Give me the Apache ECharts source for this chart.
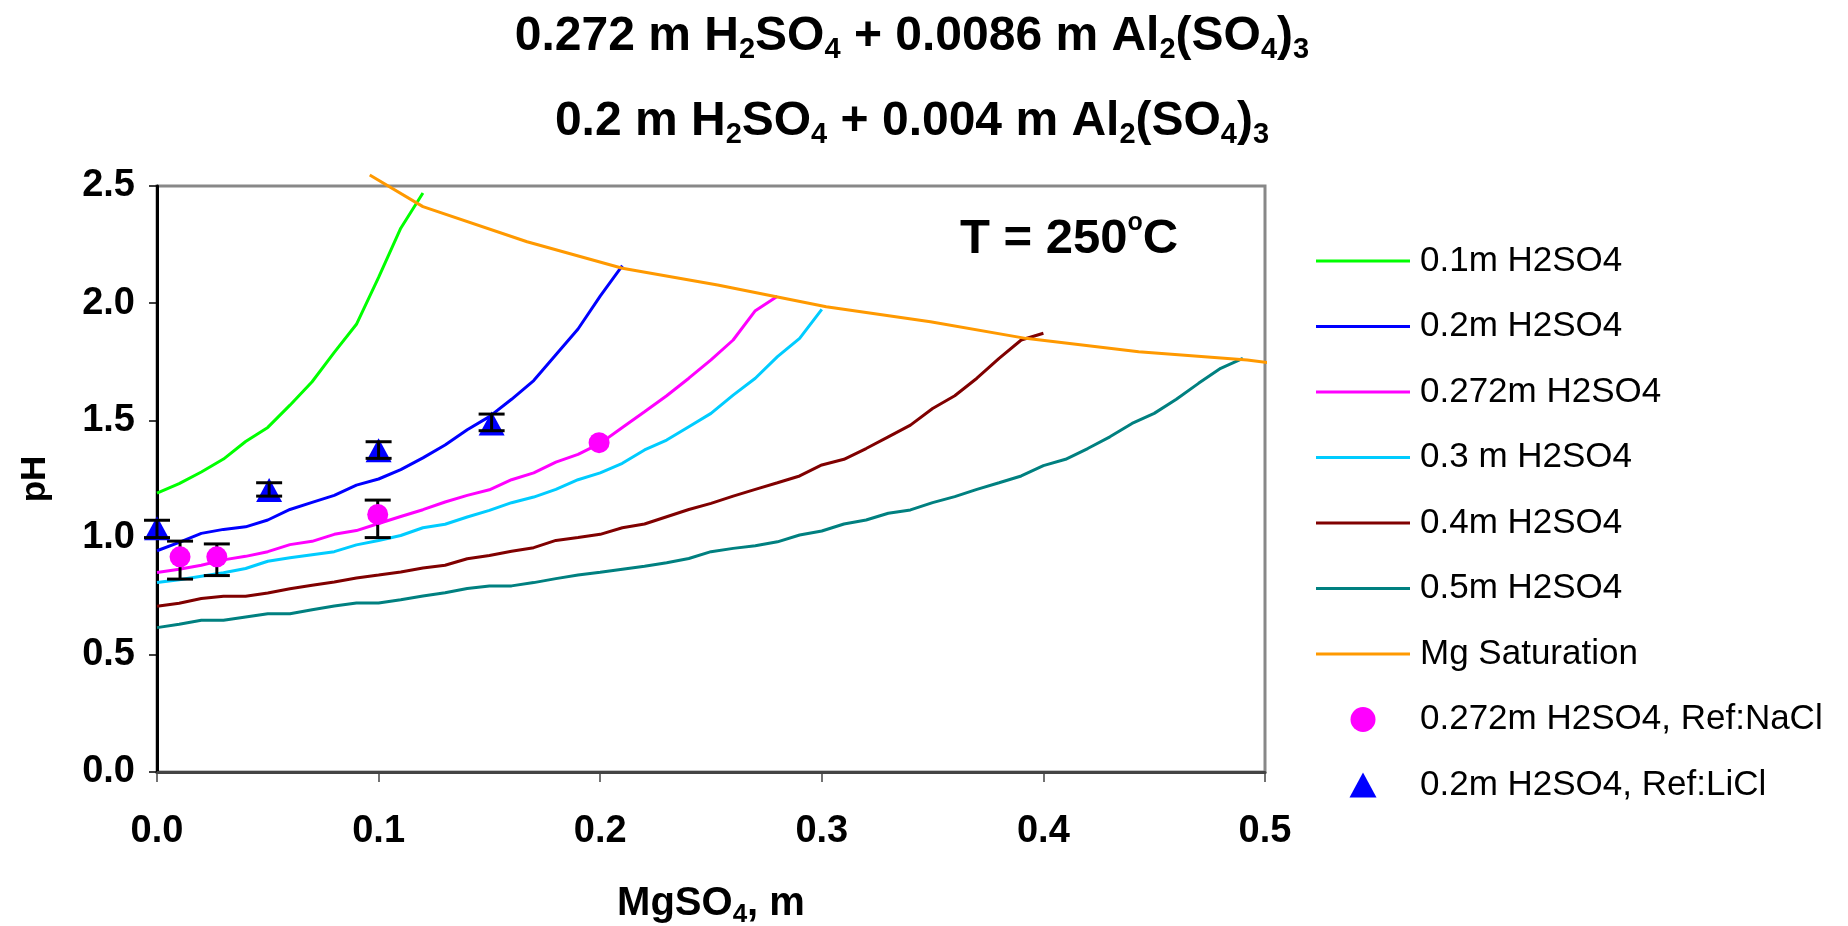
<!DOCTYPE html>
<html>
<head>
<meta charset="utf-8">
<script src="https://cdn.jsdelivr.net/npm/echarts@6/dist/echarts.min.js"></script>
<style>
  html, body { margin: 0; padding: 0; background: #fff; }
  #main { width: 1848px; height: 926px; }
</style>
</head>
<body>
<div id="main"></div>
<script>
const chartDom = document.getElementById('main');
const myChart = echarts.init(chartDom);

const FONT = '"Liberation Sans", Arial, sans-serif';

// model curves: [MgSO4 m, pH]
const h2so4_01 = [[0, 1.19], [0.01, 1.23], [0.02, 1.28], [0.03, 1.335], [0.04, 1.41], [0.05, 1.47],
  [0.06, 1.565], [0.07, 1.665], [0.08, 1.79], [0.09, 1.91], [0.10, 2.11], [0.11, 2.32], [0.12, 2.47]];

const h2so4_02 = [[0, 0.944], [0.01, 0.98], [0.02, 1.018], [0.03, 1.035], [0.04, 1.046], [0.05, 1.075],
  [0.06, 1.12], [0.07, 1.15], [0.08, 1.18], [0.09, 1.224], [0.10, 1.25], [0.11, 1.29], [0.12, 1.34],
  [0.13, 1.395], [0.14, 1.46], [0.15, 1.516], [0.16, 1.59], [0.17, 1.67], [0.18, 1.78], [0.19, 1.89],
  [0.20, 2.03], [0.21, 2.16]];

const h2so4_0272 = [[0, 0.851], [0.01, 0.865], [0.02, 0.882], [0.03, 0.905], [0.04, 0.92], [0.05, 0.94],
  [0.06, 0.97], [0.07, 0.984], [0.08, 1.014], [0.09, 1.03], [0.10, 1.06], [0.11, 1.09], [0.12, 1.119],
  [0.13, 1.152], [0.14, 1.18], [0.15, 1.204], [0.16, 1.247], [0.17, 1.276], [0.18, 1.322], [0.19, 1.355],
  [0.20, 1.402], [0.21, 1.47], [0.22, 1.537], [0.23, 1.605], [0.24, 1.68], [0.25, 1.758], [0.26, 1.843],
  [0.27, 1.968], [0.28, 2.03]];

const h2so4_03 = [[0, 0.808], [0.01, 0.82], [0.02, 0.835], [0.03, 0.85], [0.04, 0.868], [0.05, 0.899],
  [0.06, 0.914], [0.07, 0.927], [0.08, 0.94], [0.09, 0.969], [0.10, 0.988], [0.11, 1.009], [0.12, 1.042],
  [0.13, 1.057], [0.14, 1.088], [0.15, 1.116], [0.16, 1.149], [0.17, 1.173], [0.18, 1.206], [0.19, 1.247],
  [0.20, 1.276], [0.21, 1.317], [0.22, 1.374], [0.23, 1.416], [0.24, 1.473], [0.25, 1.53], [0.26, 1.608],
  [0.27, 1.68], [0.28, 1.772], [0.29, 1.85], [0.30, 1.974]];

const h2so4_04 = [[0, 0.707], [0.01, 0.72], [0.02, 0.74], [0.03, 0.75], [0.04, 0.75], [0.05, 0.764],
  [0.06, 0.782], [0.07, 0.797], [0.08, 0.811], [0.09, 0.828], [0.10, 0.84], [0.11, 0.853], [0.12, 0.87],
  [0.13, 0.882], [0.14, 0.91], [0.15, 0.924], [0.16, 0.942], [0.17, 0.957], [0.18, 0.988], [0.19, 1.0],
  [0.20, 1.014], [0.21, 1.042], [0.22, 1.058], [0.23, 1.089], [0.24, 1.12], [0.25, 1.146], [0.26, 1.177],
  [0.27, 1.206], [0.28, 1.234], [0.29, 1.263], [0.30, 1.31], [0.31, 1.334], [0.32, 1.38], [0.33, 1.43],
  [0.34, 1.48], [0.35, 1.551], [0.36, 1.605], [0.37, 1.68], [0.38, 1.765], [0.39, 1.843], [0.40, 1.872]];

const h2so4_05 = [[0, 0.616], [0.01, 0.63], [0.02, 0.647], [0.03, 0.647], [0.04, 0.661], [0.05, 0.675],
  [0.06, 0.675], [0.07, 0.692], [0.08, 0.708], [0.09, 0.721], [0.10, 0.721], [0.11, 0.735], [0.12, 0.751],
  [0.13, 0.765], [0.14, 0.783], [0.15, 0.794], [0.16, 0.794], [0.17, 0.808], [0.18, 0.825], [0.19, 0.84],
  [0.20, 0.852], [0.21, 0.865], [0.22, 0.878], [0.23, 0.893], [0.24, 0.911], [0.25, 0.94], [0.26, 0.954],
  [0.27, 0.965], [0.28, 0.982], [0.29, 1.011], [0.30, 1.028], [0.31, 1.058], [0.32, 1.075], [0.33, 1.104],
  [0.34, 1.118], [0.35, 1.149], [0.36, 1.175], [0.37, 1.206], [0.38, 1.234], [0.39, 1.263], [0.40, 1.307],
  [0.41, 1.334], [0.42, 1.38], [0.43, 1.43], [0.44, 1.487], [0.45, 1.53], [0.46, 1.59], [0.47, 1.658],
  [0.48, 1.722], [0.49, 1.765]];

const mgSaturation = [[0.096, 2.547], [0.12, 2.412], [0.167, 2.262], [0.21, 2.149], [0.253, 2.078],
  [0.302, 1.985], [0.349, 1.921], [0.392, 1.85], [0.443, 1.793], [0.492, 1.758], [0.507, 1.74]];

// measured points and error bars [x, low, high]
const refNaCl = [[0.0104, 0.918], [0.027, 0.918], [0.0996, 1.099], [0.1995, 1.405]];
const refNaClErr = [[0.0104, 0.823, 0.985], [0.027, 0.838, 0.973], [0.0996, 1.0, 1.16]];
const refLiCl = [[0, 1.04], [0.0506, 1.203], [0.1, 1.373], [0.151, 1.487]];
const refLiClErr = [[0, 1.0, 1.074], [0.0506, 1.177, 1.234], [0.1, 1.338, 1.409], [0.151, 1.456, 1.527]];

const xTicks = [0, 0.1, 0.2, 0.3, 0.4, 0.5];
const yTicks = [0, 0.5, 1.0, 1.5, 2.0, 2.5];

const curves = [
  { name: '0.1m H2SO4', data: h2so4_01, color: '#00FF00' },
  { name: '0.2m H2SO4', data: h2so4_02, color: '#0000FF' },
  { name: '0.272m H2SO4', data: h2so4_0272, color: '#FF00FF' },
  { name: '0.3 m H2SO4', data: h2so4_03, color: '#00CCFF' },
  { name: '0.4m H2SO4', data: h2so4_04, color: '#800000' },
  { name: '0.5m H2SO4', data: h2so4_05, color: '#008080' },
  { name: 'Mg Saturation', data: mgSaturation, color: '#FF9900' }
];
const nameNaCl = '0.272m H2SO4, Ref:NaCl';
const nameLiCl = '0.2m H2SO4, Ref:LiCl';

function errorBar(params, api) {
  const x = api.value(0);
  const lo = api.coord([x, api.value(1)]);
  const hi = api.coord([x, api.value(2)]);
  const half = 13;
  const style = { stroke: '#000', lineWidth: 3 };
  return {
    type: 'group',
    children: [
      { type: 'line', shape: { x1: lo[0], y1: lo[1], x2: hi[0], y2: hi[1] }, style },
      { type: 'line', shape: { x1: lo[0] - half, y1: lo[1], x2: lo[0] + half, y2: lo[1] }, style },
      { type: 'line', shape: { x1: hi[0] - half, y1: hi[1], x2: hi[0] + half, y2: hi[1] }, style }
    ]
  };
}

const subStyle = (size, lh) => ({
  fontFamily: FONT, fontWeight: 'bold', fontSize: size, lineHeight: lh,
  verticalAlign: 'bottom', color: '#000'
});
const titleRich = {
  b: { fontFamily: FONT, fontWeight: 'bold', fontSize: 48, lineHeight: 54, color: '#000' },
  s: subStyle(29, 17)
};

const series = curves.map(c => ({
  type: 'line',
  name: c.name,
  data: c.data,
  showSymbol: false,
  symbol: 'none',
  clip: c.name !== 'Mg Saturation',
  lineStyle: { color: c.color, width: 3 },
  itemStyle: { color: c.color },
  z: 2
}));

series.push({
  type: 'custom',
  name: 'errNaCl',
  renderItem: errorBar,
  data: refNaClErr,
  encode: { x: 0, y: [1, 2] },
  z: 3
});
series.push({
  type: 'scatter',
  name: nameNaCl,
  data: refNaCl,
  symbol: 'circle',
  symbolSize: 21,
  itemStyle: { color: '#FF00FF', opacity: 1 },
  z: 4
});
series.push({
  type: 'scatter',
  name: nameLiCl,
  data: refLiCl,
  symbol: 'triangle',
  symbolSize: [26, 24],
  itemStyle: { color: '#0000FF', opacity: 1 },
  z: 4
});
series.push({
  type: 'custom',
  name: 'errLiCl',
  renderItem: errorBar,
  data: refLiClErr,
  encode: { x: 0, y: [1, 2] },
  z: 5
});

const legendData = curves.map(c => ({ name: c.name, icon: 'path://M0 0H94V3H0Z' }))
  .concat([
    { name: nameNaCl, icon: 'circle' },
    { name: nameLiCl, icon: 'path://M13.5 0L27 25H0Z' }
  ]);

const myChartOption = {
  backgroundColor: '#fff',
  animation: false,
  title: [
    {
      text: '{b|0.272 m H}{s|2}{b|SO}{s|4}{b| + 0.0086 m Al}{s|2}{b|(SO}{s|4}{b|)}{s|3}',
      left: 907,
      textAlign: 'center',
      top: 5,
      textStyle: { rich: titleRich }
    },
    {
      text: '{b|0.2 m H}{s|2}{b|SO}{s|4}{b| + 0.004 m Al}{s|2}{b|(SO}{s|4}{b|)}{s|3}',
      left: 907,
      textAlign: 'center',
      top: 90,
      textStyle: { rich: titleRich }
    },
    {
      text: '{b|T = 250}{o|o}{b|C}',
      left: 955,
      top: 206,
      textStyle: {
        rich: {
          b: { fontFamily: FONT, fontWeight: 'bold', fontSize: 49, lineHeight: 56, color: '#000' },
          o: { fontFamily: FONT, fontWeight: 'bold', fontSize: 25, lineHeight: 50, verticalAlign: 'top', color: '#000' }
        }
      }
    }
  ],
  legend: {
    orient: 'vertical',
    left: 1311,
    top: 236,
    itemWidth: 94,
    itemHeight: 25,
    itemGap: 25.5,
    symbolKeepAspect: true,
    data: legendData,
    textStyle: { fontFamily: FONT, fontSize: 35, lineHeight: 40, color: '#000', padding: [0, 0, 0, 5] }
  },
  grid: {
    left: 157,
    right: 583,
    top: 186,
    bottom: 154,
    outerBoundsMode: 'none',
    containLabel: false,
    show: true,
    borderColor: '#888',
    borderWidth: 3
  },
  xAxis: {
    type: 'value',
    min: xTicks[0],
    max: xTicks[xTicks.length - 1],
    interval: 0.1,
    name: 'MgSO{s|4}, m',
    nameLocation: 'middle',
    nameGap: 108,
    nameTextStyle: {
      fontFamily: FONT, fontWeight: 'bold', fontSize: 40, lineHeight: 48, color: '#000',
      rich: { s: subStyle(26, 16) }
    },
    splitLine: { show: false },
    axisLine: { lineStyle: { color: '#444', width: 3 } },
    axisTick: { inside: false, length: 10, lineStyle: { color: '#444', width: 1.5 } },
    axisLabel: {
      margin: 41,
      fontFamily: FONT, fontWeight: 'bold', fontSize: 38, color: '#000',
      formatter: v => v.toFixed(1)
    }
  },
  yAxis: {
    type: 'value',
    min: yTicks[0],
    max: yTicks[yTicks.length - 1],
    interval: 0.5,
    name: 'pH',
    nameLocation: 'middle',
    nameGap: 104,
    nameTextStyle: { fontFamily: FONT, fontWeight: 'bold', fontSize: 35, color: '#000' },
    splitLine: { show: false },
    axisLine: { lineStyle: { color: '#000', width: 3 } },
    axisTick: { inside: false, length: 8, lineStyle: { color: '#000', width: 1.5 } },
    axisLabel: {
      margin: 22,
      fontFamily: FONT, fontWeight: 'bold', fontSize: 38, color: '#000',
      formatter: v => v.toFixed(1)
    }
  },
  series
};

myChartOption && myChart.setOption(myChartOption);
</script>
</body>
</html>
